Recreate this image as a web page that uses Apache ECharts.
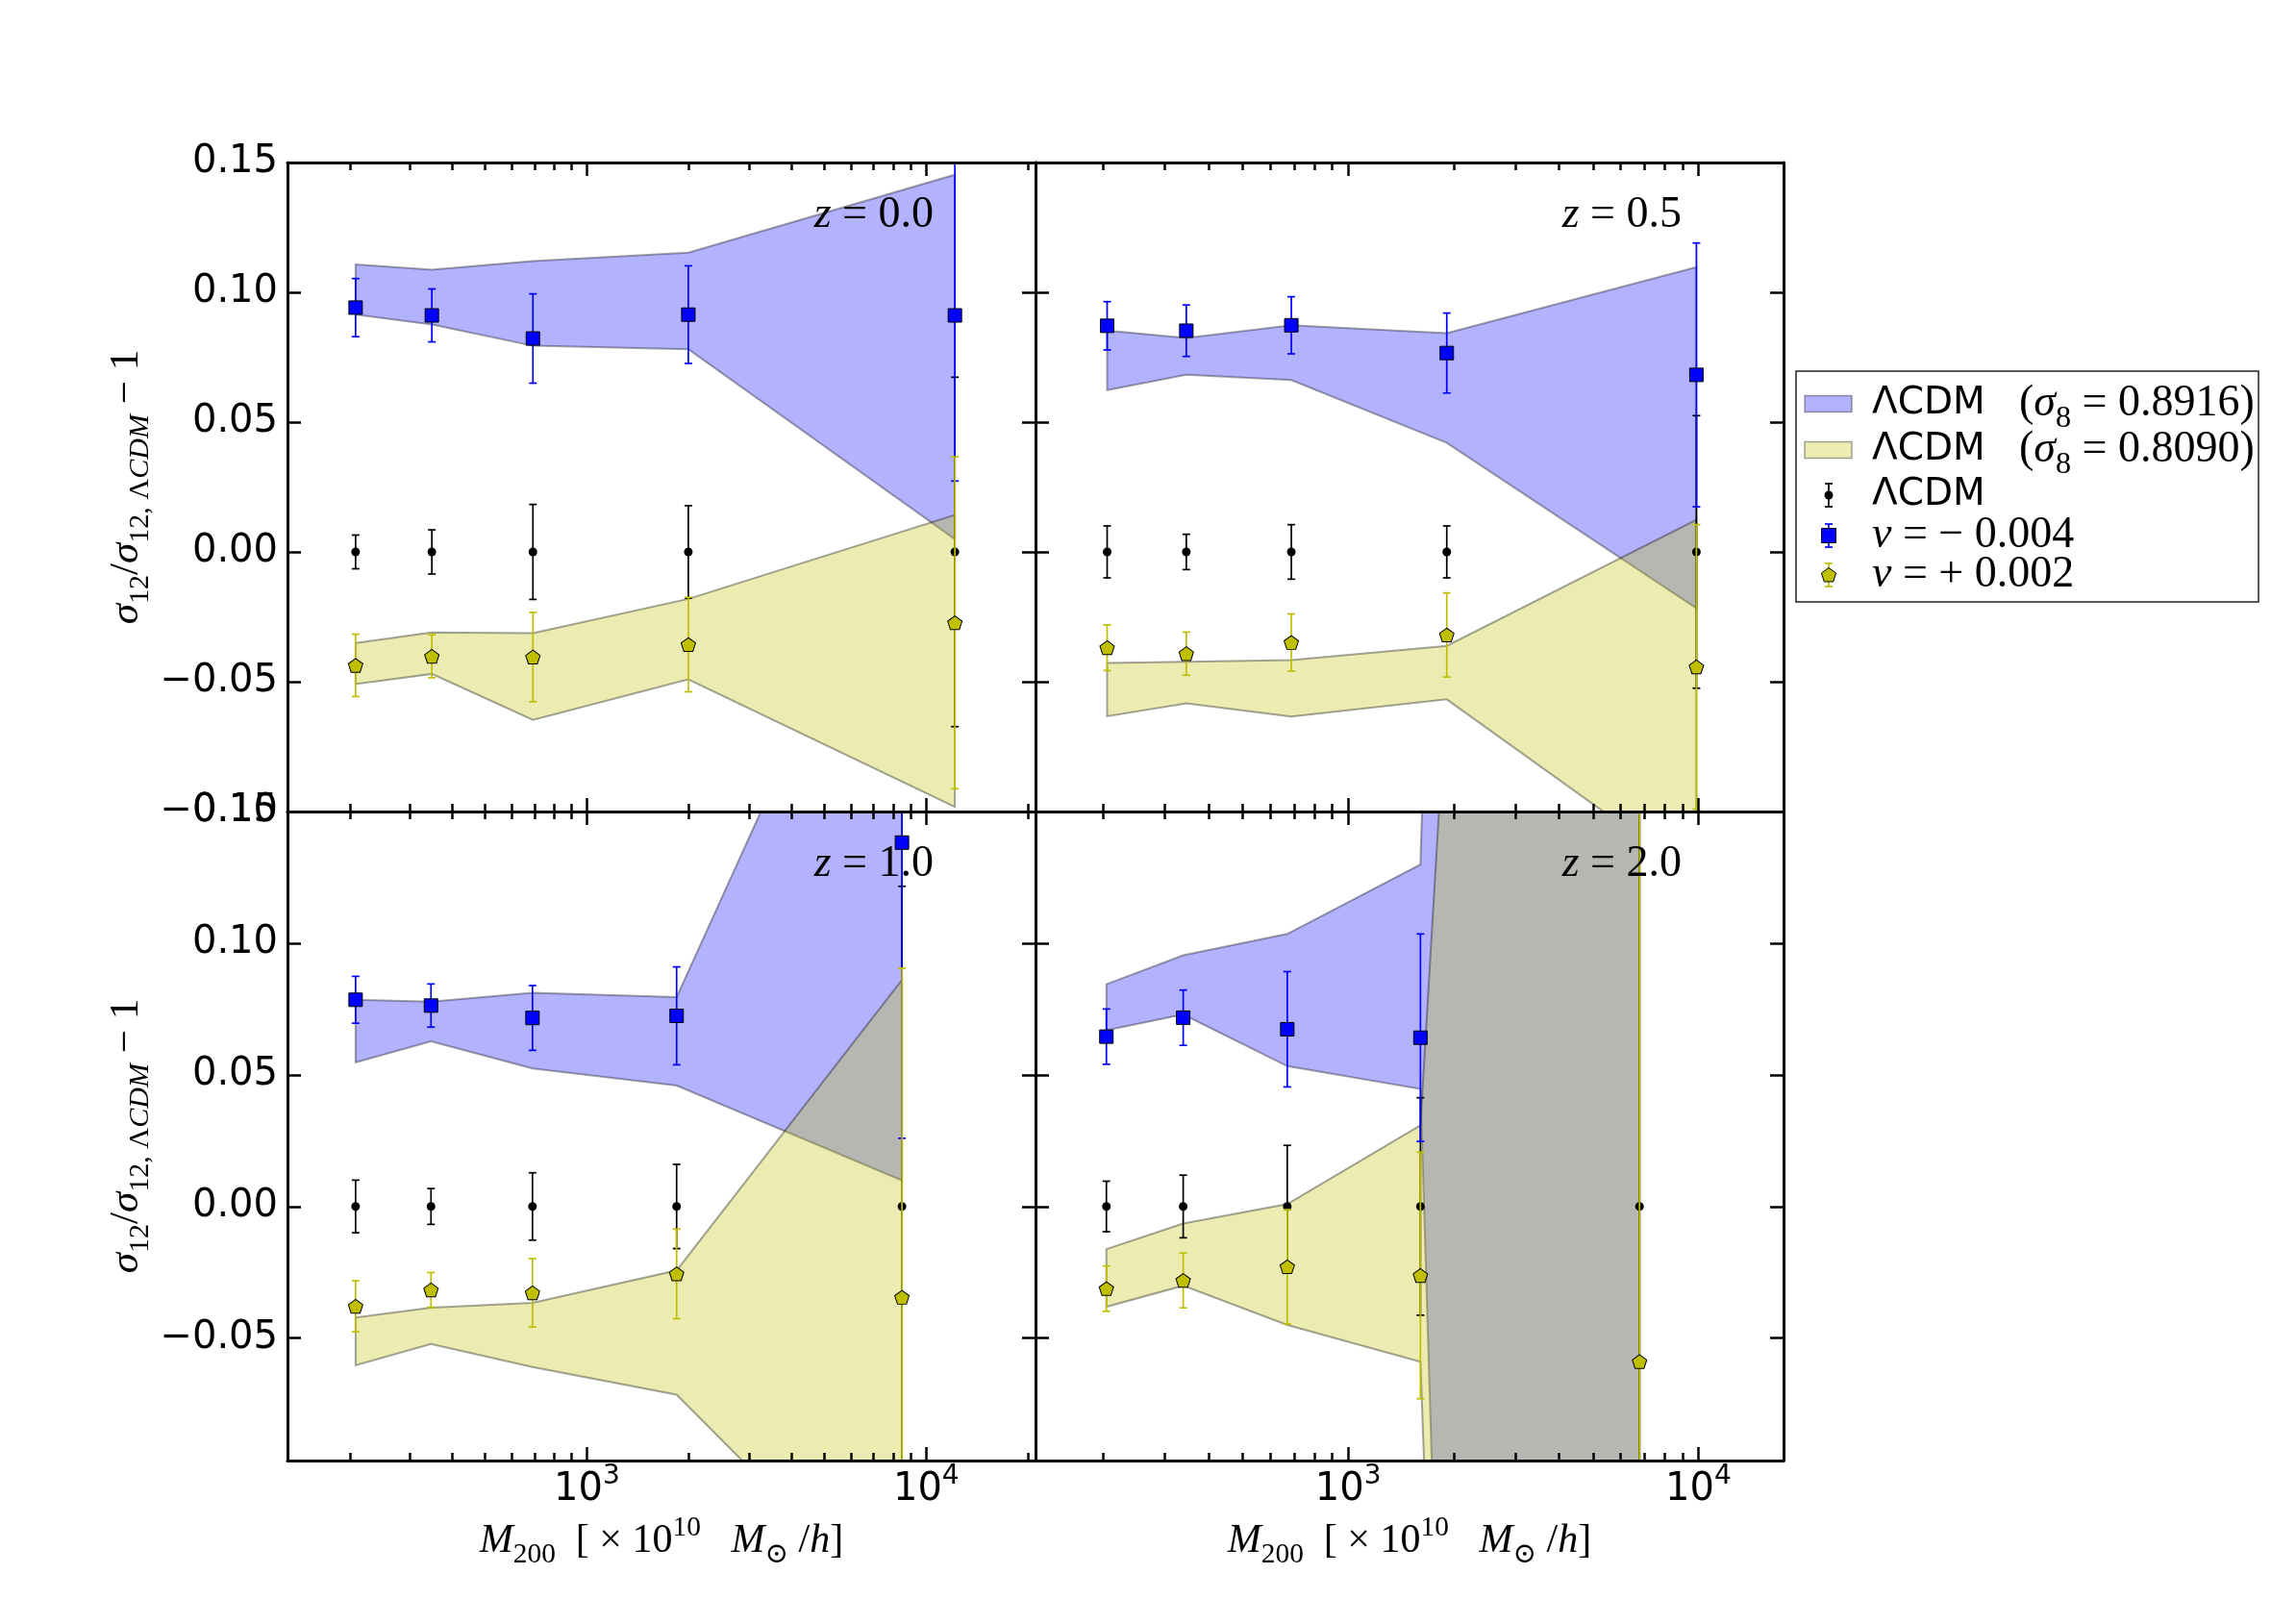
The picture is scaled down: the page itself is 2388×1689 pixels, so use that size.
<!DOCTYPE html>
<html>
<head>
<meta charset="utf-8">
<title>sigma12 ratio vs halo mass</title>
<script src="https://cdn.jsdelivr.net/npm/echarts@6.0.0/dist/echarts.min.js"></script>
<style>
  html, body { margin: 0; padding: 0; background: #fff; }
  #chart { width: 2388px; height: 1689px; }
</style>
</head>
<body>
<div id="chart"></div>
<script>
// bin masses [1e10 Msun/h], one list per redshift
const massZ00 = [208, 349, 693, 1990, 12150];
const massZ05 = [205, 345, 688, 1912, 9870];
const massZ10 = [208, 347, 691, 1838, 8484];
const massZ20 = [204, 338, 670, 1608, 6790];

// LCDM reference points (all zero) and their errors
const lcdmZ00 = [0, 0, 0, 0, 0];
const lcdmZ05 = [0, 0, 0, 0, 0];
const lcdmZ10 = [0, 0, 0, 0, 0];
const lcdmZ20 = [0, 0, 0, 0, 0];
const lcdmErrZ00 = [0.0065, 0.0085, 0.0183, 0.0178, 0.0673];
const lcdmErrZ05 = [0.0100, 0.0068, 0.0105, 0.0100, 0.0525];
const lcdmErrZ10 = [0.0100, 0.0068, 0.0128, 0.0160, 0.1216];
const lcdmErrZ20 = [0.0096, 0.0119, 0.0232, 0.0413, 0.3000];

// nu = -0.004
const nuNegZ00 = [0.0941, 0.0911, 0.0822, 0.0914, 0.0911];
const nuNegErrZ00 = [0.0112, 0.0102, 0.0172, 0.0188, 0.0638];
const nuNegZ05 = [0.0871, 0.0852, 0.0873, 0.0766, 0.0682];
const nuNegErrZ05 = [0.0093, 0.0099, 0.0110, 0.0154, 0.0508];
const nuNegZ10 = [0.0785, 0.0763, 0.0716, 0.0724, 0.1382];
const nuNegErrZ10 = [0.0089, 0.0082, 0.0123, 0.0186, 0.1123];
const nuNegZ20 = [0.0645, 0.0717, 0.0673, 0.0641, null];
const nuNegErrZ20 = [0.0105, 0.0105, 0.0219, 0.0394, null];

// nu = +0.002
const nuPosZ00 = [-0.0437, -0.0402, -0.0405, -0.0357, -0.0273];
const nuPosErrZ00 = [0.0120, 0.0083, 0.0172, 0.0182, 0.0639];
const nuPosZ05 = [-0.0369, -0.0392, -0.0349, -0.0320, -0.0443];
const nuPosErrZ05 = [0.0088, 0.0083, 0.0110, 0.0162, 0.0548];
const nuPosZ10 = [-0.0379, -0.0317, -0.0328, -0.0256, -0.0345];
const nuPosErrZ10 = [0.0097, 0.0066, 0.0130, 0.0170, 0.1250];
const nuPosZ20 = [-0.0312, -0.0281, -0.0229, -0.0262, -0.0589];
const nuPosErrZ20 = [0.0086, 0.0104, 0.0217, 0.0468, 0.3000];

// LCDM sigma8 = 0.8916 band
const highS8LoZ00 = [0.0914, 0.0876, 0.0794, 0.0781, 0.0049];
const highS8HiZ00 = [0.1107, 0.1087, 0.1120, 0.1153, 0.1453];
const highS8LoZ05 = [0.0623, 0.0682, 0.0662, 0.0420, -0.0217];
const highS8HiZ05 = [0.0853, 0.0824, 0.0873, 0.0843, 0.1097];
const highS8LoZ10 = [0.0547, 0.0627, 0.0524, 0.0459, 0.0099];
const highS8HiZ10 = [0.0785, 0.0778, 0.0812, 0.0795, 0.2680];
const highS8LoZ20 = [0.0669, 0.0729, 0.0533, 0.0446, -2.70];
const highS8HiZ20 = [0.0844, 0.0954, 0.1035, 0.1299, 3.00];

// LCDM sigma8 = 0.8090 band
const lowS8LoZ00 = [-0.0509, -0.0470, -0.0647, -0.0491, -0.0982];
const lowS8HiZ00 = [-0.0351, -0.0310, -0.0313, -0.0181, 0.0142];
const lowS8LoZ05 = [-0.0633, -0.0583, -0.0634, -0.0568, -0.1257];
const lowS8HiZ05 = [-0.0428, -0.0423, -0.0417, -0.0362, 0.0124];
const lowS8LoZ10 = [-0.0603, -0.0522, -0.0610, -0.0715, -0.1574];
const lowS8HiZ10 = [-0.0422, -0.0384, -0.0366, -0.0243, 0.0860];
const lowS8LoZ20 = [-0.0381, -0.0301, -0.0450, -0.0590, -2.36];
const lowS8HiZ20 = [-0.0162, -0.0065, 0.0009, 0.0308, 1.44];

const panelLabels = ['0.0', '0.5', '1.0', '2.0'];
const yTicksTop = [-0.10, -0.05, 0.00, 0.05, 0.10, 0.15];
const yTicksBottom = [-0.05, 0.00, 0.05, 0.10, 0.15];
const xMajorTicks = [1000, 10000];
const xMinorTicks = [200, 300, 400, 500, 600, 700, 800, 900, 2000, 3000, 4000, 5000, 6000, 7000, 8000, 9000, 20000];
const legendLabels = ['\u039BCDM', '\u039BCDM', '\u039BCDM', '\u03BD = \u2212 0.004', '\u03BD = + 0.002'];
const legendSigma8 = ['0.8916', '0.8090'];

const panels = [
  { z: panelLabels[0], mass: massZ00, lcdm: lcdmZ00, lcdmErr: lcdmErrZ00, neg: nuNegZ00, negErr: nuNegErrZ00, pos: nuPosZ00, posErr: nuPosErrZ00,
    hiLo: highS8LoZ00, hiHi: highS8HiZ00, loLo: lowS8LoZ00, loHi: lowS8HiZ00, xr: [131, 21000], yr: [-0.10, 0.15], yTicks: yTicksTop },
  { z: panelLabels[1], mass: massZ05, lcdm: lcdmZ05, lcdmErr: lcdmErrZ05, neg: nuNegZ05, negErr: nuNegErrZ05, pos: nuPosZ05, posErr: nuPosErrZ05,
    hiLo: highS8LoZ05, hiHi: highS8HiZ05, loLo: lowS8LoZ05, loHi: lowS8HiZ05, xr: [128, 17500], yr: [-0.10, 0.15], yTicks: yTicksTop },
  { z: panelLabels[2], mass: massZ10, lcdm: lcdmZ10, lcdmErr: lcdmErrZ10, neg: nuNegZ10, negErr: nuNegErrZ10, pos: nuPosZ10, posErr: nuPosErrZ10,
    hiLo: highS8LoZ10, hiHi: highS8HiZ10, loLo: lowS8LoZ10, loHi: lowS8HiZ10, xr: [131, 21000], yr: [-0.0965, 0.15], yTicks: yTicksBottom },
  { z: panelLabels[3], mass: massZ20, lcdm: lcdmZ20, lcdmErr: lcdmErrZ20, neg: nuNegZ20, negErr: nuNegErrZ20, pos: nuPosZ20, posErr: nuPosErrZ20,
    hiLo: highS8LoZ20, hiHi: highS8HiZ20, loLo: lowS8LoZ20, loHi: lowS8HiZ20, xr: [128, 17500], yr: [-0.0965, 0.15], yTicks: yTicksBottom }
];

const SERIF = "'Liberation Serif', 'DejaVu Serif', serif";
const SANS = "'DejaVu Sans', sans-serif";
const BLUE_FILL = 'rgba(0,0,255,0.3)';
const YELLOW_FILL = 'rgba(191,191,0,0.3)';
const BAND_EDGE = 'rgba(0,0,0,0.35)';
const BLUE = '#0000ff';
const YELLOW = '#bfbf00';
const PENTAGON = 'path://M0,-10L9.511,-3.09L5.878,8.09L-5.878,8.09L-9.511,-3.09Z';

const grids = [
  { left: 299, top: 169, width: 778, height: 675 },
  { left: 1077, top: 169, width: 778, height: 675 },
  { left: 299, top: 844, width: 778, height: 675 },
  { left: 1077, top: 844, width: 778, height: 675 }
];

const mathRich = (size) => ({
  m: { fontFamily: SERIF, fontStyle: 'italic', fontSize: size, lineHeight: size * 1.35, color: '#000' },
  r: { fontFamily: SERIF, fontSize: size, lineHeight: size * 1.35, color: '#000' },
  s: { fontFamily: SERIF, fontSize: size * 0.7, lineHeight: size * 0.7, verticalAlign: 'bottom', color: '#000' },
  si: { fontFamily: SERIF, fontStyle: 'italic', fontSize: size * 0.7, lineHeight: size * 0.7, verticalAlign: 'bottom', color: '#000' },
  p: { fontFamily: SERIF, fontSize: size * 0.7, lineHeight: size * 0.7, verticalAlign: 'top', color: '#000' }
});

const fmtY = (v) => (v < 0 ? '\u2212' : '') + Math.abs(v).toFixed(2);

const bandRenderer = (rows, fill) => (params, api) => {
  if (params.dataIndex !== 0) return null;
  const upper = rows.map((r) => api.coord([r[0], r[2]]));
  const lower = rows.map((r) => api.coord([r[0], r[1]])).reverse();
  return {
    type: 'polygon',
    shape: { points: upper.concat(lower) },
    style: { fill: fill, stroke: BAND_EDGE, lineWidth: 2 }
  };
};

const errRenderer = (params, api) => {
  const m = api.value(0);
  const y = api.value(1);
  const e = api.value(2);
  const top = api.coord([m, y + e]);
  const bot = api.coord([m, y - e]);
  const c = api.visual('color');
  const st = { stroke: c, lineWidth: 1.7 };
  return {
    type: 'group',
    children: [
      { type: 'line', shape: { x1: top[0], y1: top[1], x2: bot[0], y2: bot[1] }, style: st },
      { type: 'line', shape: { x1: top[0] - 4, y1: top[1], x2: top[0] + 4, y2: top[1] }, style: st },
      { type: 'line', shape: { x1: bot[0] - 4, y1: bot[1], x2: bot[0] + 4, y2: bot[1] }, style: st }
    ]
  };
};

const xAxes = [];
const yAxes = [];
const series = [];
const graphics = [];

panels.forEach((p, i) => {
  const isBottom = i >= 2;
  const isLeft = i % 2 === 0;
  const baseX = {
    type: 'log', logBase: 10, gridIndex: i, min: p.xr[0], max: p.xr[1], z: 10,
    splitLine: { show: false }, axisPointer: { show: false }
  };
  const lineOn = { show: true, onZero: false, lineStyle: { color: '#000', width: 3 } };
  const lineOff = { show: false, onZero: false };
  xAxes.push(Object.assign({}, baseX, {
    position: 'bottom', axisLine: lineOn,
    axisTick: { inside: true, length: 14, customValues: xMajorTicks, lineStyle: { color: '#000', width: 2.5 } },
    axisLabel: isBottom ? {
      customValues: xMajorTicks, margin: 3,
      formatter: (v) => '{b|10}{s|' + Math.round(Math.log10(v)) + '}',
      rich: {
        b: { fontFamily: SANS, fontSize: 40, lineHeight: 56, color: '#000' },
        s: { fontFamily: SANS, fontSize: 28, lineHeight: 28, verticalAlign: 'top', color: '#000' }
      }
    } : { show: false },
    name: isBottom ? '{m|M}{s|200}{r|  [ \u00D7 10}{p|10}{r|   }{m|M}{s|\u2299}{r| /}{m|h}{r|]}' : '',
    nameLocation: 'middle', nameGap: 56,
    nameTextStyle: { rich: mathRich(42) }
  }));
  xAxes.push(Object.assign({}, baseX, {
    position: 'bottom', axisLine: lineOff, axisLabel: { show: false },
    axisTick: { inside: true, length: 8, customValues: xMinorTicks, lineStyle: { color: '#000', width: 2.5 } }
  }));
  xAxes.push(Object.assign({}, baseX, {
    position: 'top', axisLine: lineOn, axisLabel: { show: false },
    axisTick: { inside: true, length: 14, customValues: xMajorTicks, lineStyle: { color: '#000', width: 2.5 } }
  }));
  xAxes.push(Object.assign({}, baseX, {
    position: 'top', axisLine: lineOff, axisLabel: { show: false },
    axisTick: { inside: true, length: 8, customValues: xMinorTicks, lineStyle: { color: '#000', width: 2.5 } }
  }));

  const baseY = {
    type: 'value', gridIndex: i, min: p.yr[0], max: p.yr[1], z: 10,
    splitLine: { show: false }, axisPointer: { show: false },
    axisLine: lineOn,
    axisTick: { inside: true, length: 14, customValues: yTicksTop, lineStyle: { color: '#000', width: 2.5 } }
  };
  yAxes.push(Object.assign({}, baseY, {
    position: 'left',
    axisLabel: isLeft ? {
      customValues: p.yTicks, formatter: fmtY, margin: 10,
      fontFamily: SANS, fontSize: 40, color: '#000'
    } : { show: false },
    name: isLeft ? '{m|\u03C3}{s|12}{r|/}{m|\u03C3}{s|12, \u039B}{si|CDM}{r| \u2212 1}' : '',
    nameLocation: 'middle', nameRotate: 90, nameGap: 138,
    nameTextStyle: { rich: mathRich(43) }
  }));
  yAxes.push(Object.assign({}, baseY, { position: 'right', axisLabel: { show: false } }));

  const xi = 4 * i;
  const yi = 2 * i;
  const bandBlue = p.mass.map((m, k) => [m, p.hiLo[k], p.hiHi[k]]);
  const bandYellow = p.mass.map((m, k) => [m, p.loLo[k], p.loHi[k]]);
  const withErr = (vals, errs) => p.mass
    .map((m, k) => [m, vals[k], errs[k]])
    .filter((r) => r[1] !== null);

  series.push({
    type: 'custom', name: '\u039BCDM (\u03C38 = 0.8916)', xAxisIndex: xi, yAxisIndex: yi, z: 1, clip: true, silent: true,
    data: bandBlue, encode: { x: 0, y: [1, 2] }, renderItem: bandRenderer(bandBlue, BLUE_FILL)
  });
  series.push({
    type: 'custom', name: '\u039BCDM (\u03C38 = 0.8090)', xAxisIndex: xi, yAxisIndex: yi, z: 2, clip: true, silent: true,
    data: bandYellow, encode: { x: 0, y: [1, 2] }, renderItem: bandRenderer(bandYellow, YELLOW_FILL)
  });

  const pointSets = [
    { name: '\u039BCDM', vals: p.lcdm, errs: p.lcdmErr, color: '#000', symbol: 'circle', size: 9, border: 0 },
    { name: '\u03BD = \u22120.004', vals: p.neg, errs: p.negErr, color: BLUE, symbol: 'rect', size: 14, border: 1 },
    { name: '\u03BD = +0.002', vals: p.pos, errs: p.posErr, color: YELLOW, symbol: PENTAGON, size: [15, 14.3], border: 1 }
  ];
  pointSets.forEach((s, k) => {
    const rows = withErr(s.vals, s.errs);
    series.push({
      type: 'custom', name: s.name, xAxisIndex: xi, yAxisIndex: yi, z: 3 + 2 * k, clip: true, silent: true,
      itemStyle: { color: s.color }, data: rows, encode: { x: 0, y: 1 }, renderItem: errRenderer
    });
    series.push({
      type: 'scatter', name: s.name, xAxisIndex: xi, yAxisIndex: yi, z: 4 + 2 * k, clip: true, silent: true,
      symbol: s.symbol, symbolSize: s.size,
      itemStyle: { color: s.color, borderColor: '#000', borderWidth: s.border, opacity: 1 },
      data: rows.map((r) => [r[0], r[1]])
    });
  });

  const g = grids[i];
  graphics.push({
    type: 'text', x: g.left + g.width - 106, y: g.top + 55, z: 20,
    style: { text: '{m|z}{r| = ' + p.z + '}', rich: mathRich(46), align: 'right', verticalAlign: 'middle' }
  });
});

// legend, drawn by hand so the error-bar icons look right
const legX = 1868;
const legY = 386;
const rowY = [420, 468, 515, 557, 598];
const iconX = 1902;
graphics.push({
  type: 'rect', z: 30, shape: { x: legX, y: legY, width: 481, height: 240 },
  style: { fill: '#fff', stroke: '#222', lineWidth: 1.5 }
});
[BLUE_FILL, YELLOW_FILL].forEach((fill, k) => {
  graphics.push({
    type: 'rect', z: 31, shape: { x: 1877, y: rowY[k] - 8.5, width: 49, height: 17 },
    style: { fill: fill, stroke: BAND_EDGE, lineWidth: 1.5 }
  });
});
const errIcon = (y, color) => [
  { type: 'line', z: 31, shape: { x1: iconX, y1: y - 12, x2: iconX, y2: y + 12 }, style: { stroke: color, lineWidth: 1.7 } },
  { type: 'line', z: 31, shape: { x1: iconX - 4, y1: y - 12, x2: iconX + 4, y2: y - 12 }, style: { stroke: color, lineWidth: 1.7 } },
  { type: 'line', z: 31, shape: { x1: iconX - 4, y1: y + 12, x2: iconX + 4, y2: y + 12 }, style: { stroke: color, lineWidth: 1.7 } }
];
const pentagon = (cx, cy, r) => [0, 1, 2, 3, 4].map((k) => {
  const a = -Math.PI / 2 + (k * 2 * Math.PI) / 5;
  return [cx + r * Math.cos(a), cy + r * Math.sin(a)];
});
errIcon(rowY[2], '#000').forEach((e) => graphics.push(e));
graphics.push({ type: 'circle', z: 32, shape: { cx: iconX, cy: rowY[2], r: 4.5 }, style: { fill: '#000' } });
errIcon(rowY[3], BLUE).forEach((e) => graphics.push(e));
graphics.push({ type: 'rect', z: 32, shape: { x: iconX - 7.5, y: rowY[3] - 7.5, width: 15, height: 15 }, style: { fill: BLUE, stroke: '#000', lineWidth: 1 } });
errIcon(rowY[4], YELLOW).forEach((e) => graphics.push(e));
graphics.push({ type: 'polygon', z: 32, shape: { points: pentagon(iconX, rowY[4] + 0.5, 8) }, style: { fill: YELLOW, stroke: '#000', lineWidth: 1 } });

legendLabels.forEach((label, k) => {
  const isNu = k >= 3;
  graphics.push({
    type: 'text', z: 33, x: 1947, y: rowY[k],
    style: isNu
      ? { text: '{m|\u03BD}{r|' + label.slice(1) + '}', rich: mathRich(46), verticalAlign: 'middle' }
      : { text: label, fontFamily: SANS, fontSize: 39, fill: '#000', verticalAlign: 'middle' }
  });
});
legendSigma8.forEach((s8, k) => {
  graphics.push({
    type: 'text', z: 33, x: 2100, y: rowY[k],
    style: { text: '{r|(}{m|\u03C3}{s|8}{r| = ' + s8 + ')}', rich: mathRich(46), verticalAlign: 'middle' }
  });
});

const chart = echarts.init(document.getElementById('chart'), null, { renderer: 'canvas' });
chart.setOption({
  animation: false,
  backgroundColor: '#fff',
  textStyle: { fontFamily: SANS },
  grid: grids.map((g) => Object.assign({ containLabel: false, show: false }, g)),
  xAxis: xAxes,
  yAxis: yAxes,
  series: series,
  graphic: { elements: graphics }
});
</script>
</body>
</html>
